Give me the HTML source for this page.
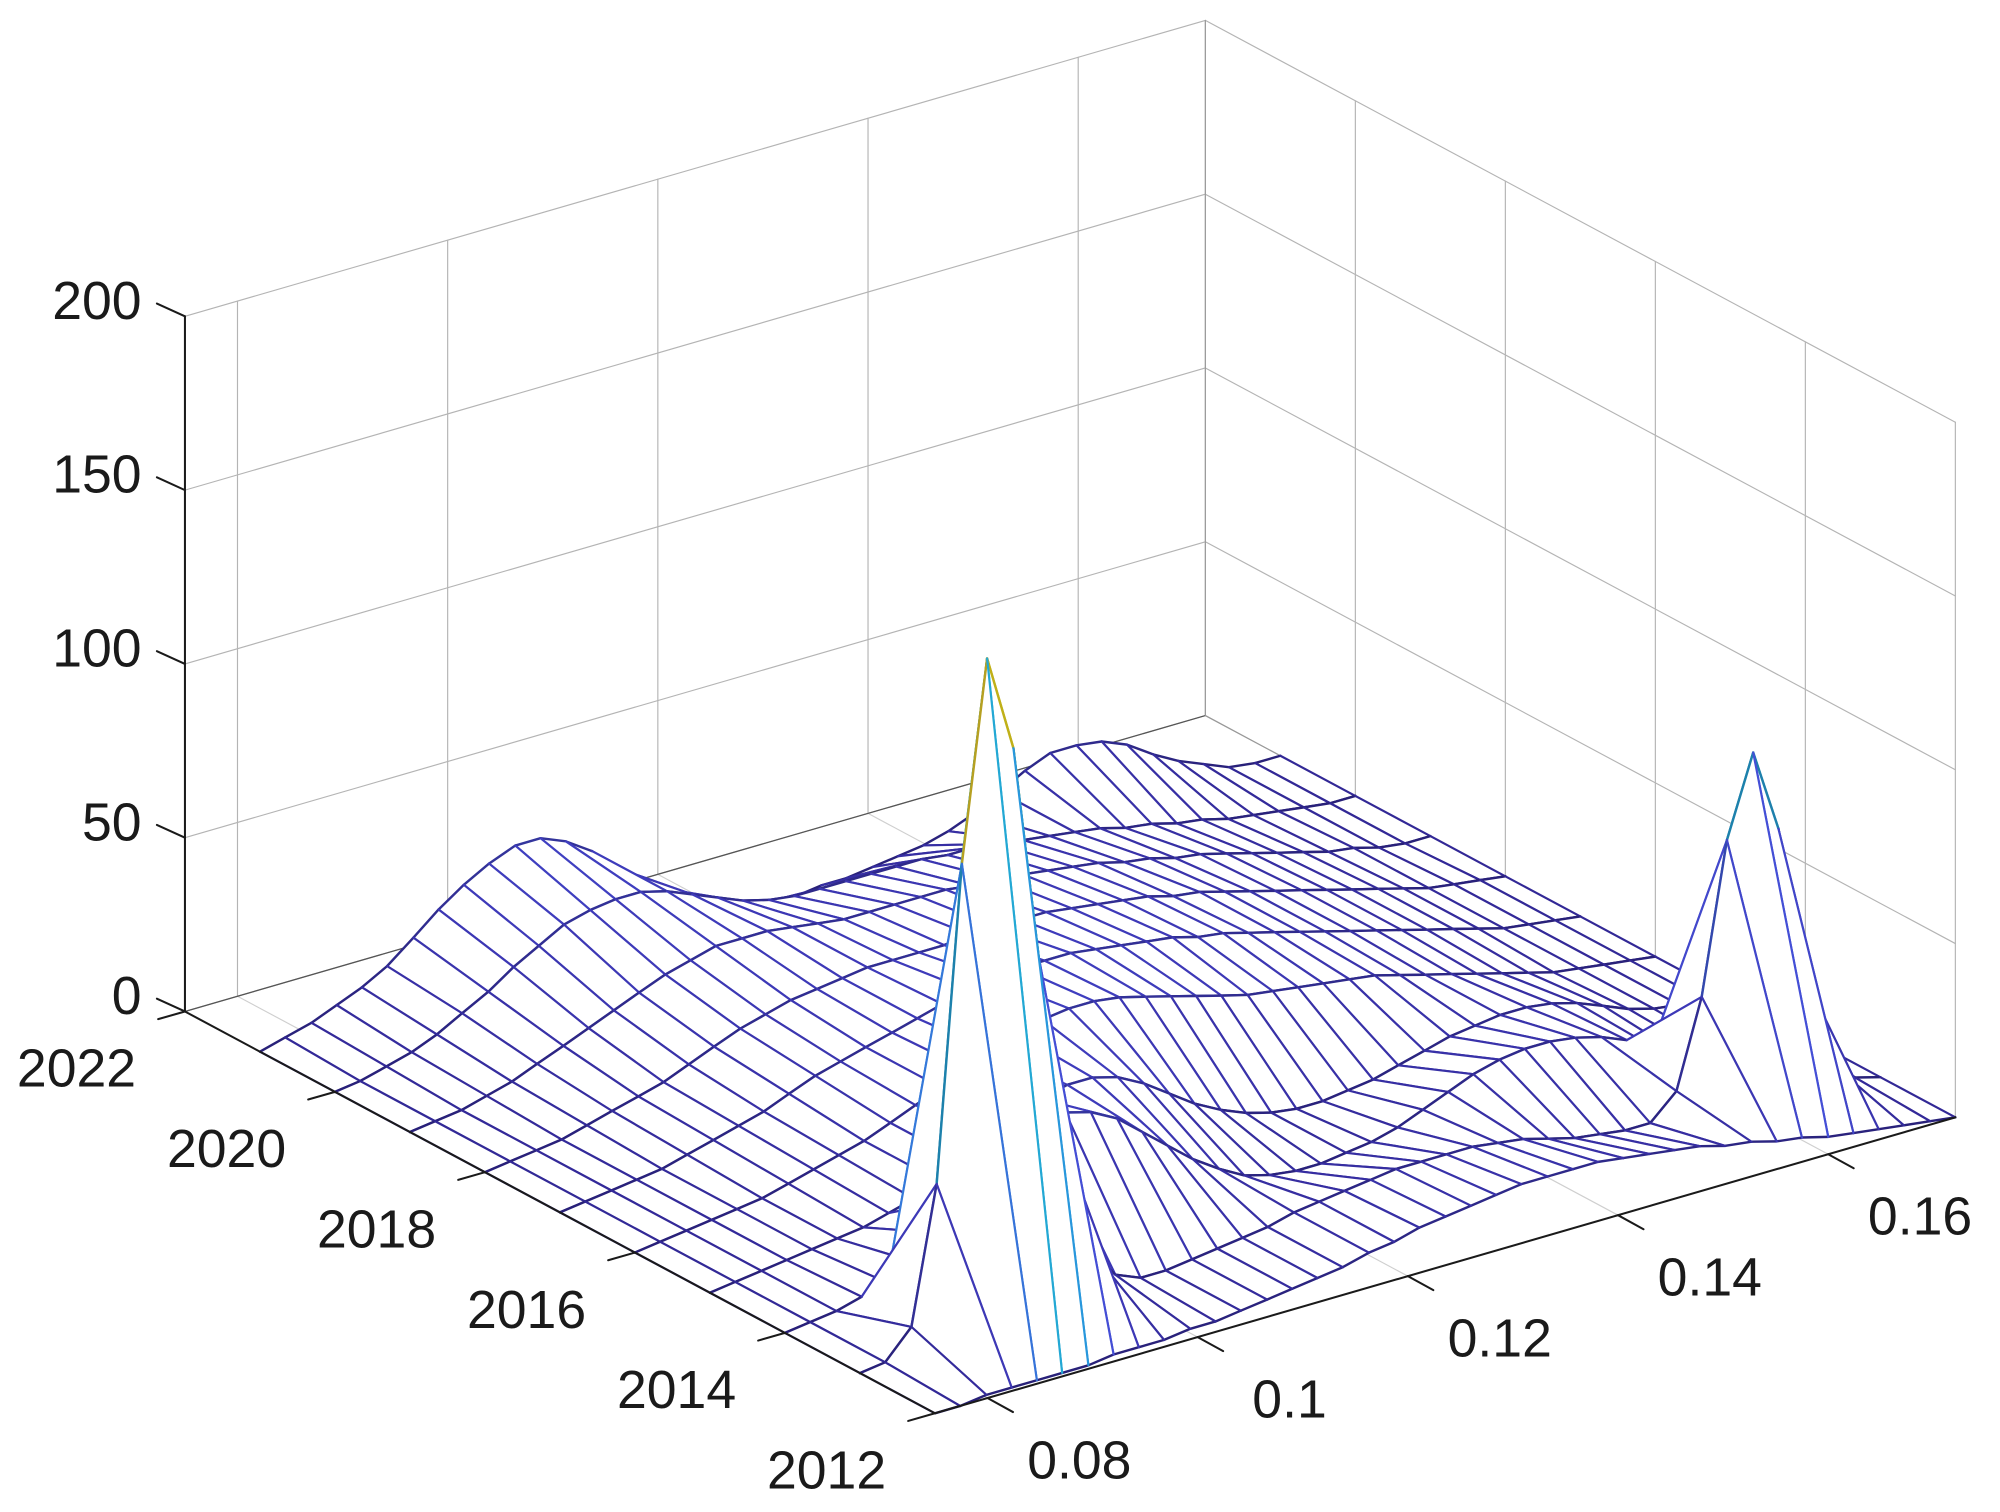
<!DOCTYPE html>
<html><head><meta charset="utf-8"><style>
html,body{margin:0;padding:0;background:#fff;}
svg{display:block;}
text{font-family:"Liberation Sans",sans-serif;fill:#1a1a1a;}
</style></head><body>
<svg id="chart" xmlns="http://www.w3.org/2000/svg" width="2000" height="1512" viewBox="0 0 1568 1185.4" preserveAspectRatio="none">
<rect x="0" y="0" width="1568" height="1186" fill="#fff"/>
<g id="walls"></g>
<g id="surface"></g>
<g id="axes"></g>
</svg>
<script>
const years=[2012,2013,2014,2015,2016,2017,2018,2019,2020,2021];
const xGrid=[0.0750,0.0774,0.0799,0.0823,0.0847,0.0871,0.0896,0.0920,0.0944,0.0968,0.0993,0.1017,0.1041,0.1066,0.1090,0.1114,0.1138,0.1163,0.1187,0.1211,0.1236,0.1260,0.1284,0.1308,0.1333,0.1357,0.1381,0.1405,0.1430,0.1454,0.1478,0.1502,0.1527,0.1551,0.1575,0.1600,0.1624,0.1648,0.1672,0.1697,0.1721];
const z2012=[0,0,1,1,1,1,1,2,2,2,3,3,4,5,6,7,8,10,11,13,14,15,16,17,17,17,17,16,15,14,13,11,10,8,7,5,4,3,2,1,0];
const z2013=[0,1,9,48,138,195,167,105,49,17,7,4,4,5,6,7,8,10,11,12,13,14,14,14,14,13,12,10,8,7,6,6,13,38,81,104,80,36,9,2,0];
const z2014=[0,1,2,4,6,10,16,24,32,38,40,40,38,34,28,22,16,11,7,5,4,4,5,6,8,11,14,17,19,20,20,19,17,14,10,6,4,2,1,0,0];
const z2015=[0,1,2,3,4,5,6,8,10,13,16,20,24,28,30,30,28,24,19,14,10,7,5,4,4,5,6,8,10,12,13,14,14,13,11,8,5,3,2,1,0];
const z2016=[0,1,2,3,4,5,7,9,11,13,16,19,22,25,28,31,33,34,34,33,31,29,27,25,23,22,21,20,19,18,16,14,12,10,8,6,4,3,2,1,0];
const z2017=[0,1,2,3,4,6,8,10,12,15,18,20,22,24,26,28,30,31,32,32,32,31,30,29,28,26,25,23,21,19,17,15,13,11,9,7,5,3,2,1,0];
const z2018=[0,1,2,3,5,7,9,11,14,17,20,22,24,25,26,27,27,27,27,28,28,28,28,27,26,25,24,22,21,19,17,15,13,11,9,7,5,3,2,1,0];
const z2019=[0,1,2,4,6,9,12,15,18,21,24,26,28,28,28,27,26,25,25,25,25,25,24,24,23,22,21,20,18,17,15,14,12,10,8,6,4,3,1,0,0];
const z2020=[0,1,3,5,8,12,16,21,25,29,31,32,32,30,27,24,21,19,18,18,18,18,18,18,17,17,16,15,14,13,12,10,9,7,6,4,3,2,1,0,0];
const z2021=[0,2,4,7,10,14,20,26,31,35,38,38,35,30,23,16,10,6,3,1,0,0,1,1,2,3,4,6,9,13,17,20,20,19,16,11,7,4,1,0,0];
const zRows=[z2012,z2013,z2014,z2015,z2016,z2017,z2018,z2019,z2020,z2021];
const zTicks=[0,50,100,150,200];
const zTickLabels=['0','50','100','150','200'];
const yearTicks=[2012,2014,2016,2018,2020,2022];
const yearTickLabels=['2012','2014','2016','2018','2020','2022'];
const xTicks=[0.08,0.1,0.12,0.14,0.16];
const xTickLabels=['0.08','0.1','0.12','0.14','0.16'];

const NS='http://www.w3.org/2000/svg';
const XMIN=0.075, XMAX=0.1721, YMIN=2012, YMAX=2022, ZMAX=200, CMAX=195;
const O=[145,793], U=[800,-232], V=[588,315], K=545/200;
function uOf(x){return (x-XMIN)/(XMAX-XMIN);}
function vOf(y){return (YMAX-y)/(YMAX-YMIN);}
function proj(u,v,z){return [O[0]+u*U[0]+v*V[0], O[1]+u*U[1]+v*V[1]-z*K];}
function mk(t){return document.createElementNS(NS,t);}
function seg(g,p,q,col,w){
  const l=mk('line');
  l.setAttribute('x1',p[0].toFixed(2));l.setAttribute('y1',p[1].toFixed(2));
  l.setAttribute('x2',q[0].toFixed(2));l.setAttribute('y2',q[1].toFixed(2));
  l.setAttribute('stroke',col);l.setAttribute('stroke-width',w);
  l.setAttribute('stroke-linecap','round');
  g.appendChild(l);return l;
}
const stops=[[50,40,150],[62,58,185],[68,80,215],[40,150,220],[30,185,205],[120,200,90],[230,200,40],[249,240,21]];
function parula(t,dk){
  t=Math.max(0,Math.min(1,t));const s=t*7;const i=Math.min(6,Math.floor(s));const f=s-i;
  const c=stops[i].map((a,k)=>Math.round((a+(stops[i+1][k]-a)*f)*dk));
  return 'rgb('+c.join(',')+')';
}
const walls=document.getElementById('walls');
const GC='#b4b4b4';
zTicks.forEach(z=>{
  const l=seg(walls,proj(0,0,z),proj(1,0,z),GC,0.9);
  
  
});
xTicks.forEach(x=>{
  const u=uOf(x);
  const l=seg(walls,proj(u,0,0),proj(u,0,ZMAX),GC,0.9);
  
  
  const f=seg(walls,proj(u,0,0),proj(u,1,0),'#cfcfcf',0.9);
  
  
});
zTicks.forEach(z=>{
  const l=seg(walls,proj(1,0,z),proj(1,1,z),GC,0.9);
  
  
});
yearTicks.forEach(y=>{
  const v=vOf(y);
  const l=seg(walls,proj(1,v,0),proj(1,v,ZMAX),GC,0.9);
  
  
  const f=seg(walls,proj(0,v,0),proj(1,v,0),'#cfcfcf',0.9);
  
  
});
const corner=seg(walls,proj(1,0,0),proj(1,0,ZMAX),'#999',0.9);


const fb=seg(walls,proj(0,0,0),proj(1,0,0),'#555',1);


const fr=seg(walls,proj(1,0,0),proj(1,1,0),'#999',0.9);



const surf=document.getElementById('surface');
const quads=[];
for(let j=0;j<years.length-1;j++){
  for(let i=0;i<xGrid.length-1;i++){
    const uc=(uOf(xGrid[i])+uOf(xGrid[i+1]))/2, vc=(vOf(years[j])+vOf(years[j+1]))/2;
    quads.push({i:i,j:j,d:uc*U[1]+vc*V[1]});
  }
}
quads.sort((a,b)=>a.d-b.d);
quads.forEach(q=>{
  const i=q.i,j=q.j;
  const u0=uOf(xGrid[i]),u1=uOf(xGrid[i+1]),v0=vOf(years[j]),v1=vOf(years[j+1]);
  const z00=zRows[j][i],z10=zRows[j][i+1],z01=zRows[j+1][i],z11=zRows[j+1][i+1];
  const p00=proj(u0,v0,z00),p10=proj(u1,v0,z10),p11=proj(u1,v1,z11),p01=proj(u0,v1,z01);
  const g=mk('g');
  
  
  const poly=mk('polygon');
  poly.setAttribute('points',[p00,p10,p11,p01].map(p=>p[0].toFixed(2)+','+p[1].toFixed(2)).join(' '));
  poly.setAttribute('fill','#fff');
  poly.setAttribute('stroke','#fff');
  poly.setAttribute('stroke-width','0.3');
  g.appendChild(poly);
  seg(g,p00,p10,parula((z00+z10)/2/CMAX,0.8),1.9);
  seg(g,p01,p11,parula((z01+z11)/2/CMAX,0.8),1.9);
  seg(g,p00,p01,parula((z00+z01)/2/CMAX,1),1.7);
  seg(g,p10,p11,parula((z10+z11)/2/CMAX,1),1.7);
  surf.appendChild(g);
});

const ax=document.getElementById('axes');
const za=seg(ax,proj(0,0,0),proj(0,0,ZMAX),'#1a1a1a',1.6);


const ya=seg(ax,proj(0,0,0),proj(0,1,0),'#1a1a1a',1.6);


const xa=seg(ax,proj(0,1,0),proj(1,1,0),'#1a1a1a',1.6);


function label(txt,x,y,anchor,name){
  const t=mk('text');
  t.setAttribute('x',x.toFixed(1));t.setAttribute('y',y.toFixed(1));
  t.setAttribute('font-size','42');t.setAttribute('text-anchor',anchor);
  t.textContent=txt;
  
  
  ax.appendChild(t);
}
zTicks.forEach((z,k)=>{
  const p=proj(0,0,z);
  const l=seg(ax,p,[p[0]-22,p[1]-10],'#1a1a1a',1.6);
  
  
  label(zTickLabels[k],p[0]-34,p[1]+2,'end','z-tick-label');
});
yearTicks.forEach((y,k)=>{
  const p=proj(0,vOf(y),0);
  const l=seg(ax,p,[p[0]-21,p[1]+6],'#1a1a1a',1.6);
  
  
  label(yearTickLabels[k],p[0]-85,p[1]+59,'middle','year-tick-label');
});
xTicks.forEach((x,k)=>{
  const p=proj(uOf(x),1,0);
  const l=seg(ax,p,[p[0]+20,p[1]+11],'#1a1a1a',1.6);
  
  
  label(xTickLabels[k],p[0]+72,p[1]+63,'middle','x-tick-label');
});
</script>
</body></html>
